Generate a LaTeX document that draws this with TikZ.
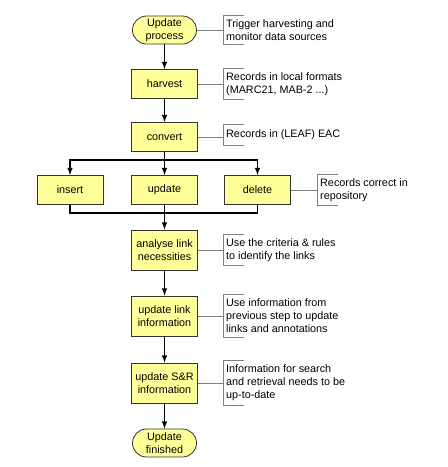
\documentclass[tikz,border=0pt]{standalone}
\usepackage{fontspec}
\setmainfont{Liberation Sans}
\usepackage{xcolor}
\usepackage{tikz}
\usetikzlibrary{shapes.geometric, shapes.misc, arrows, positioning}
\definecolor{boxfill}{HTML}{FFFF99}
\definecolor{noteline}{HTML}{808080}
\tikzset{every node/.style={font=\normalfont}}

\begin{document}
\begin{tikzpicture}[x=1pt, y=-1pt, every node/.style={font=\fontsize{10.8}{13}\selectfont}]
    % Define styles
    \tikzstyle{terminal} = [rounded rectangle, minimum width=66pt, minimum height=28pt, inner sep=1pt, align=center, draw=black!80, fill=boxfill, line width=0.8pt]
    \tikzstyle{process} = [rectangle, minimum width=66pt, minimum height=29pt, inner sep=1pt, align=center, draw=black!80, fill=boxfill, line width=0.8pt]
    \tikzstyle{tallprocess} = [process, minimum height=40pt]
    \tikzstyle{note} = [rectangle, anchor=west, align=left, inner xsep=3pt, inner ysep=4pt, minimum height=21pt]
    \tikzstyle{flow_arrow} = [line width=1.5pt, ->, >=latex]
    \tikzstyle{flow_line} = [line width=1.5pt]
    \tikzstyle{note_line} = [noteline, line width=0.8pt]

    \useasboundingbox (0,0) rectangle (448,467);

    % Main flow
    \node (start) [terminal] at (164.5, 30) {Update\\process};
    \node (harvest) [process] at (164.5, 84) {harvest};
    \node (convert) [process] at (164.5, 137) {convert};

    % Branches
    \node (insert) [process] at (70, 190) {insert};
    \node (update) [process] at (164.5, 190) {update};
    \node (delete) [process] at (257.5, 190) {delete};

    \node (analyse) [tallprocess] at (164.5, 250) {analyse link\\necessities};
    \node (updlink) [tallprocess] at (164.5, 316) {update link\\information};
    \node (updsr) [tallprocess] at (164.5, 383) {update S\&R\\information};
    \node (finish) [terminal] at (164.5, 443) {Update\\finished};

    % Split and merge points
    \coordinate (split) at (164.5, 160);
    \coordinate (merge) at (164.5, 213);

    % Annotations
    \node (startnote) [note] at (223, 30) {Trigger harvesting and\\monitor data sources};
    \node (harvestnote) [note] at (223, 84) {Records in local formats\\(MARC21, MAB-2 ...)};
    \node (convertnote) [note] at (223, 135) {Records in (LEAF) EAC};
    \node (deletenote) [note] at (317, 190) {Records correct in\\repository};
    \node (analysenote) [note] at (223, 250) {Use the criteria \& rules\\to identify the links};
    \node (updlinknote) [note] at (223, 316) {Use information from\\previous step to update\\links and annotations};
    \node (updsrnote) [note] at (223, 383) {Information for search\\and retrieval needs to be\\up-to-date};

    % Annotation brackets
    \foreach \n in {startnote, harvestnote, convertnote, deletenote, analysenote, updlinknote, updsrnote}
        \draw [note_line] ([xshift=21pt]\n.north west) -- (\n.north west) -- (\n.south west) -- ([xshift=21pt]\n.south west);

    % Annotation connectors
    \draw [note_line] (start.east) -- (startnote.west);
    \draw [note_line] (harvest.east) -- (harvestnote.west);
    \draw [note_line] (convert.east) -- (convert.east -| convertnote.west);
    \draw [note_line] (delete.east) -- (deletenote.west);
    \draw [note_line] (analyse.east) -- (analysenote.west);
    \draw [note_line] (updlink.east) -- (updlinknote.west);
    \draw [note_line] (updsr.east) -- (updsrnote.west);

    % Flow arrows
    \draw [flow_arrow] (start.south) -- (harvest.north);
    \draw [flow_arrow] (harvest.south) -- (convert.north);
    \draw [flow_line] (convert.south) -- (split);
    \draw [flow_arrow] (split) -| (insert.north);
    \draw [flow_arrow] (split) -| (delete.north);
    \draw [flow_arrow] (split) -- (update.north);
    \draw [flow_line] (insert.south) |- (merge);
    \draw [flow_line] (delete.south) |- (merge);
    \draw [flow_arrow] (update.south) -- (analyse.north);
    \draw [flow_arrow] (analyse.south) -- (updlink.north);
    \draw [flow_arrow] (updlink.south) -- (updsr.north);
    \draw [flow_arrow] (updsr.south) -- (finish.north);
\end{tikzpicture}
\end{document}
